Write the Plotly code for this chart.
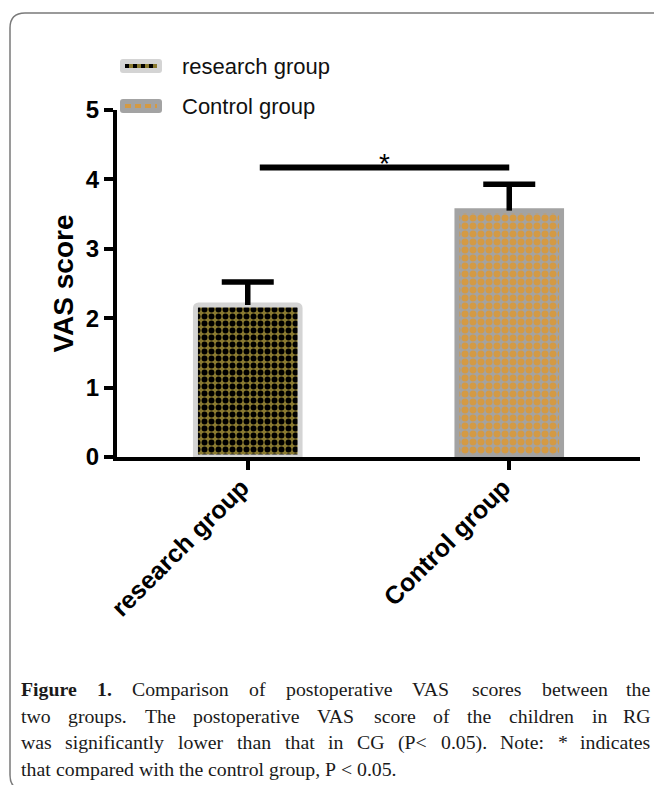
import plotly.graph_objects as go

# ---------------- data ----------------
categories = ["research group", "Control group"]
vas_mean = [2.19, 3.55]
vas_sd = [0.33, 0.38]
y_ticks = [0, 1, 2, 3, 4, 5]
sig_level = 4.17
sig_label = "*"
y_title = "VAS score"
caption_lines = [
    ["Figure", "1.", "Comparison", "of", "postoperative", "VAS", "scores", "between", "the"],
    ["two", "groups.", "The", "postoperative", "VAS", "score", "of", "the", "children", "in", "RG"],
    ["was", "significantly", "lower", "than", "that", "in", "CG", "(P<", "0.05).", "Note:", "*", "indicates"],
    ["that", "compared", "with", "the", "control", "group,", "P", "<", "0.05."],
]
caption_bold_words = 2  # "Figure 1." is bold

# ---------------- layout geometry (pixels) ----------------
W, H = 654, 785
PL, PR, PT, PB = 117, 640, 110, 457   # plot area


def pxx(x):
    return (x - PL) / (PR - PL)


def pxy(y):
    return (PB - y) / (PB - PT)


def rrect(x0, y0, x1, y1, r):
    p = [
        f"M {pxx(x0 + r)},{pxy(y0)}",
        f"L {pxx(x1 - r)},{pxy(y0)}",
        f"Q {pxx(x1)},{pxy(y0)} {pxx(x1)},{pxy(y0 + r)}",
        f"L {pxx(x1)},{pxy(y1 - r)}",
        f"Q {pxx(x1)},{pxy(y1)} {pxx(x1 - r)},{pxy(y1)}",
        f"L {pxx(x0 + r)},{pxy(y1)}",
        f"Q {pxx(x0)},{pxy(y1)} {pxx(x0)},{pxy(y1 - r)}",
        f"L {pxx(x0)},{pxy(y0 + r)}",
        f"Q {pxx(x0)},{pxy(y0)} {pxx(x0 + r)},{pxy(y0)}",
        "Z",
    ]
    return " ".join(p)


styles = [
    # (border, pattern background, pattern foreground, solidity, size)
    ("#d4d4d4", "#8a7a30", "#000000", 0.55, 7),
    ("#a3a3a3", "#a3a3a3", "#d49a44", 0.6, 8),
]

fig = go.Figure()
for i, (cat, m) in enumerate(zip(categories, vas_mean)):
    border, bg, fg, sol, sz = styles[i]
    fig.add_trace(go.Bar(
        x=[cat], y=[m], width=0.40, name=cat,
        marker=dict(
            color=bg,
            line=dict(color=border, width=5),
            pattern=dict(shape=".", fgcolor=fg, bgcolor=bg, size=sz,
                         solidity=sol, fgopacity=1, fillmode="replace"),
            cornerradius=3,
        ),
        showlegend=False,
    ))

# upper-only error bars: stem from mean to mean+sd, cap at the end
fig.add_trace(go.Bar(
    x=categories,
    y=vas_sd,
    base=vas_mean,
    width=0.021,
    marker=dict(color="#000000", line=dict(width=0)),
    error_y=dict(type="data", array=[0] * len(vas_sd), arrayminus=[0] * len(vas_sd),
                 symmetric=False, color="#000000", thickness=5.5, width=26),
    showlegend=False,
))

shapes = []
annotations = []

# significance bar
x_left = 0.046
x_right = 1.0
shapes.append(dict(type="line", xref="x", yref="y", x0=x_left, x1=x_right,
                   y0=sig_level, y1=sig_level, line=dict(color="#000", width=6)))
annotations.append(dict(xref="x", yref="y", x=(x_left + x_right) / 2, y=sig_level,
                        text=sig_label, showarrow=False, yanchor="bottom", yshift=-13,
                        font=dict(family="Arial, Liberation Sans", size=28, color="#000")))

# manual legend
leg_items = [
    (categories[0], 66, styles[0][0], styles[0][1], styles[0][2], "4px,4px"),
    (categories[1], 106, styles[1][0], styles[1][1], styles[1][2], "6px,4px"),
]
for name, cy, boxc, stripc, dashc, dash in leg_items:
    shapes.append(dict(type="path", xref="paper", yref="paper",
                       path=rrect(120, cy - 7, 162, cy + 7, 3),
                       fillcolor=boxc, line=dict(width=0)))
    shapes.append(dict(type="line", xref="paper", yref="paper",
                       x0=pxx(125), x1=pxx(157), y0=pxy(cy), y1=pxy(cy),
                       line=dict(color=stripc, width=4)))
    shapes.append(dict(type="line", xref="paper", yref="paper",
                       x0=pxx(125), x1=pxx(157), y0=pxy(cy), y1=pxy(cy),
                       line=dict(color=dashc, width=4, dash=dash)))
    annotations.append(dict(xref="paper", yref="paper", x=pxx(180), y=pxy(cy),
                            text=name, showarrow=False, xanchor="left", yanchor="middle",
                            font=dict(family="Arial, Liberation Sans", size=22, color="#111")))

# outer rounded frame
shapes.append(dict(type="path", xref="paper", yref="paper",
                   path=rrect(10, 13, 668, 790, 15),
                   line=dict(color="#7a7a7a", width=1.5), fillcolor="rgba(0,0,0,0)",
                   layer="below"))

# caption, justified word by word using Times metrics
times_w = {' ': 250, '!': 333, '(': 333, ')': 333, '*': 500, ',': 250, '-': 333, '.': 250,
           ':': 278, '<': 564, '0': 500, '1': 500, '2': 500, '3': 500, '4': 500, '5': 500,
           '6': 500, '7': 500, '8': 500, '9': 500,
           'A': 722, 'B': 667, 'C': 667, 'D': 722, 'E': 611, 'F': 556, 'G': 722, 'H': 722,
           'I': 333, 'N': 722, 'O': 722, 'P': 556, 'R': 667, 'S': 556, 'T': 611, 'V': 722,
           'a': 444, 'b': 500, 'c': 444, 'd': 500, 'e': 444, 'f': 333, 'g': 500, 'h': 500,
           'i': 278, 'j': 278, 'k': 500, 'l': 278, 'm': 778, 'n': 500, 'o': 500, 'p': 500,
           'q': 500, 'r': 333, 's': 389, 't': 278, 'u': 500, 'v': 500, 'w': 722, 'x': 500,
           'y': 500, 'z': 444}
times_b = {'F': 611, 'i': 278, 'g': 500, 'u': 556, 'r': 444, 'e': 444, '1': 500, '.': 250}

cap_fs = 19.8
cap_left, cap_right = 20, 651
cap_y0, cap_dy = 689, 26.7


def wwidth(word, bold):
    tbl = times_b if bold else times_w
    return sum(tbl.get(c, 500) for c in word) * cap_fs / 1000.0


for li, words in enumerate(caption_lines):
    last_line = li == len(caption_lines) - 1
    bolds = [(li == 0 and wi < caption_bold_words) for wi in range(len(words))]
    widths = [wwidth(w, b) for w, b in zip(words, bolds)]
    if not last_line:
        gap = (cap_right - cap_left - sum(widths)) / (len(words) - 1)
    else:
        gap = times_w[' '] * cap_fs / 1000.0
    x = cap_left
    cy = cap_y0 + li * cap_dy
    for wi, (w, b, ww) in enumerate(zip(words, bolds, widths)):
        txt = f"<b>{w}</b>" if b else w
        at_right = (not last_line) and wi == len(words) - 1
        annotations.append(dict(xref="paper", yref="paper",
                                x=pxx(cap_right if at_right else x), y=pxy(cy), text=txt,
                                showarrow=False, xanchor="right" if at_right else "left",
                                yanchor="middle", borderpad=0,
                                font=dict(family="Liberation Serif, Times New Roman, serif",
                                          size=cap_fs, color="#1a1a1a")))
        x += ww + gap

axis_font = dict(family="Arial, Liberation Sans", size=24, color="#000")
fig.update_layout(
    width=W, height=H,
    margin=dict(l=PL, r=W - PR, t=PT, b=H - PB, pad=0),
    paper_bgcolor="white", plot_bgcolor="white",
    barmode="overlay",
    shapes=shapes,
    annotations=annotations,
    xaxis=dict(range=[-0.5, 1.5], showline=True, linecolor="#000", linewidth=4,
               ticks="outside", ticklen=9, tickwidth=3.5, tickcolor="#000",
               tickangle=-45, tickfont=dict(family="Arial, Liberation Sans", size=25, color="#000"),
               showgrid=False, zeroline=False,
               ticklabelstandoff=-7, ticklabelshift=-6,
               tickvals=categories, ticktext=[f"<b>{c}</b>" for c in categories]),
    yaxis=dict(range=[0, 5], showline=True, linecolor="#000", linewidth=4,
               ticks="outside", ticklen=9, tickwidth=3.5, tickcolor="#000",
               tickvals=y_ticks, ticktext=[f"<b>{t}</b>" for t in y_ticks],
               tickfont=axis_font, showgrid=False, zeroline=False,
               title=dict(text=f"<b>{y_title}</b>", standoff=5,
                          font=dict(family="Arial, Liberation Sans", size=28, color="#000"))),
)

fig.write_html("out.html", config={"displayModeBar": False},
               post_script="document.body.style.margin='0';document.body.style.overflow='hidden';")
